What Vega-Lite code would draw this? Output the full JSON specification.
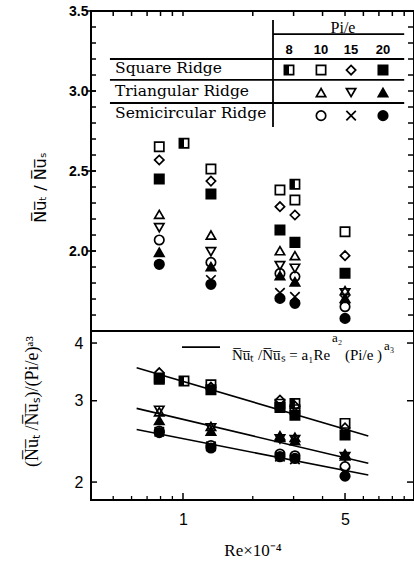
{
  "$schema": "https://vega.github.io/schema/vega-lite/v6.json",
  "width": 323,
  "height": 489,
  "autosize": {"type": "none"},
  "padding": {"left": 91, "top": 11, "right": 0, "bottom": 65},
  "background": "white",
  "config": {
    "view": {"stroke": "black", "strokeWidth": 2},
    "axis": {"grid": false, "domain": false, "ticks": false, "labelColor": "black", "titleColor": "black", "labelFlush": false, "labelOverlap": false},
    "tick": {"color": "black", "opacity": 1}
  },
  "datasets": {
    "top": [
      {"re": 0.79, "v": 2.652, "sym": "sq10"}, {"re": 0.79, "v": 2.569, "sym": "sq15"}, {"re": 0.79, "v": 2.45, "sym": "sq20"},
      {"re": 0.79, "v": 2.229, "sym": "tr10"}, {"re": 0.79, "v": 2.146, "sym": "tr15"}, {"re": 0.79, "v": 2.069, "sym": "sc10"},
      {"re": 0.79, "v": 1.992, "sym": "tr20"}, {"re": 0.79, "v": 1.917, "sym": "sc20"},
      {"re": 1.01, "v": 2.673, "sym": "sq8"},
      {"re": 1.32, "v": 2.512, "sym": "sq10"}, {"re": 1.32, "v": 2.437, "sym": "sq15"}, {"re": 1.32, "v": 2.356, "sym": "sq20"},
      {"re": 1.32, "v": 2.1, "sym": "tr10"}, {"re": 1.32, "v": 1.996, "sym": "tr15"}, {"re": 1.32, "v": 1.929, "sym": "sc10"},
      {"re": 1.32, "v": 1.902, "sym": "tr20"}, {"re": 1.32, "v": 1.819, "sym": "sc15"}, {"re": 1.32, "v": 1.792, "sym": "sc20"},
      {"re": 2.62, "v": 2.381, "sym": "sq10"}, {"re": 2.62, "v": 2.277, "sym": "sq15"}, {"re": 2.62, "v": 2.131, "sym": "sq20"},
      {"re": 2.62, "v": 2.002, "sym": "tr10"}, {"re": 2.62, "v": 1.908, "sym": "tr15"}, {"re": 2.62, "v": 1.86, "sym": "sc10"},
      {"re": 2.62, "v": 1.846, "sym": "tr20"}, {"re": 2.62, "v": 1.739, "sym": "sc15"}, {"re": 2.62, "v": 1.704, "sym": "sc20"},
      {"re": 3.04, "v": 2.417, "sym": "sq8"}, {"re": 3.04, "v": 2.319, "sym": "sq10"}, {"re": 3.04, "v": 2.225, "sym": "sq15"},
      {"re": 3.04, "v": 2.054, "sym": "sq20"}, {"re": 3.04, "v": 1.971, "sym": "tr10"}, {"re": 3.04, "v": 1.892, "sym": "tr15"},
      {"re": 3.04, "v": 1.84, "sym": "sc10"}, {"re": 3.04, "v": 1.808, "sym": "tr20"}, {"re": 3.04, "v": 1.714, "sym": "sc15"},
      {"re": 3.04, "v": 1.673, "sym": "sc20"},
      {"re": 5.0, "v": 2.121, "sym": "sq10"}, {"re": 5.0, "v": 1.971, "sym": "sq15"}, {"re": 5.0, "v": 1.861, "sym": "sq20"},
      {"re": 5.0, "v": 1.752, "sym": "tr10"}, {"re": 5.0, "v": 1.739, "sym": "tr15"}, {"re": 5.0, "v": 1.704, "sym": "tr20"},
      {"re": 5.0, "v": 1.694, "sym": "sc15"}, {"re": 5.0, "v": 1.652, "sym": "sc10"}, {"re": 5.0, "v": 1.579, "sym": "sc20"},
      {"re": 2.866, "v": 3.131, "sym": "sq8"}, {"re": 3.94, "v": 3.131, "sym": "sq10"}, {"re": 5.31, "v": 3.131, "sym": "sq15"}, {"re": 7.29, "v": 3.131, "sym": "sq20"},
      {"re": 3.94, "v": 2.99, "sym": "tr10"}, {"re": 5.31, "v": 2.99, "sym": "tr15"}, {"re": 7.29, "v": 2.99, "sym": "tr20"},
      {"re": 3.94, "v": 2.846, "sym": "sc10"}, {"re": 5.31, "v": 2.846, "sym": "sc15"}, {"re": 7.29, "v": 2.846, "sym": "sc20"}
    ],
    "tlines": [
      {"re": 2.445, "re2": 2.445, "v": 3.444, "v2": 2.775},
      {"re": 2.445, "re2": 9.0, "v": 3.356, "v2": 3.356},
      {"re": 0.484, "re2": 9.0, "v": 3.2, "v2": 3.2},
      {"re": 0.484, "re2": 9.0, "v": 3.069, "v2": 3.069},
      {"re": 0.484, "re2": 9.0, "v": 2.925, "v2": 2.925}
    ],
    "divider": [{"re": 0.401, "re2": 9.92, "v": 1.5}],
    "rowlabels": [
      {"re": 0.509, "v": 3.144, "label": "Square Ridge"},
      {"re": 0.509, "v": 3.0, "label": "Triangular Ridge"},
      {"re": 0.509, "v": 2.8625, "label": "Semicircular Ridge"}
    ],
    "header": [{"re": 4.9, "v": 3.394, "label": "Pi/e"}],
    "pis": [
      {"re": 2.866, "v": 3.256, "label": "8"}, {"re": 3.94, "v": 3.256, "label": "10"},
      {"re": 5.31, "v": 3.256, "label": "15"}, {"re": 7.29, "v": 3.256, "label": "20"}
    ],
    "xticks_top": [{"re": 0.5}, {"re": 0.6}, {"re": 0.7}, {"re": 0.8}, {"re": 0.9}, {"re": 1}, {"re": 2}, {"re": 3}, {"re": 4}, {"re": 5}, {"re": 6}, {"re": 7}, {"re": 8}, {"re": 9}],
    "yticks_top": [{"v": 1.6}, {"v": 1.7}, {"v": 1.8}, {"v": 1.9}, {"v": 2.0}, {"v": 2.1}, {"v": 2.2}, {"v": 2.3}, {"v": 2.4}, {"v": 2.5}, {"v": 2.6}, {"v": 2.7}, {"v": 2.8}, {"v": 2.9}, {"v": 3.0}, {"v": 3.1}, {"v": 3.2}, {"v": 3.3}, {"v": 3.4}],
    "yticks_top_major": [{"v": 2.0}, {"v": 2.5}, {"v": 3.0}, {"v": 3.5}],
    "xticks_bot_minor": [{"re": 0.5}, {"re": 0.6}, {"re": 0.7}, {"re": 0.8}, {"re": 0.9}, {"re": 2}, {"re": 3}, {"re": 4}, {"re": 6}, {"re": 7}, {"re": 8}, {"re": 9}],
    "xticks_bot_major": [{"re": 1}, {"re": 5}],
    "yticks_bot": [{"v": 2}, {"v": 3}, {"v": 4}],
    "bot": [
      {"re": 0.79, "v": 3.36, "sym": "sq10"}, {"re": 0.79, "v": 3.45, "sym": "sq15"}, {"re": 0.79, "v": 3.34, "sym": "sq20"},
      {"re": 1.01, "v": 3.31, "sym": "sq8"},
      {"re": 1.32, "v": 3.25, "sym": "sq10"}, {"re": 1.32, "v": 3.21, "sym": "sq15"}, {"re": 1.32, "v": 3.17, "sym": "sq20"},
      {"re": 2.62, "v": 2.95, "sym": "sq10"}, {"re": 2.62, "v": 3.01, "sym": "sq15"}, {"re": 2.62, "v": 2.9, "sym": "sq20"},
      {"re": 3.04, "v": 2.96, "sym": "sq8"}, {"re": 3.04, "v": 2.87, "sym": "sq10"}, {"re": 3.04, "v": 2.92, "sym": "sq15"}, {"re": 3.04, "v": 2.79, "sym": "sq20"},
      {"re": 5.0, "v": 2.68, "sym": "sq10"}, {"re": 5.0, "v": 2.62, "sym": "sq15"}, {"re": 5.0, "v": 2.53, "sym": "sq20"},
      {"re": 0.79, "v": 2.84, "sym": "tr10"}, {"re": 0.79, "v": 2.86, "sym": "tr15"}, {"re": 0.79, "v": 2.72, "sym": "tr20"},
      {"re": 1.32, "v": 2.64, "sym": "tr10"}, {"re": 1.32, "v": 2.62, "sym": "tr15"}, {"re": 1.32, "v": 2.58, "sym": "tr20"},
      {"re": 2.62, "v": 2.52, "sym": "tr10"}, {"re": 2.62, "v": 2.48, "sym": "tr15"}, {"re": 2.62, "v": 2.5, "sym": "tr20"},
      {"re": 3.04, "v": 2.5, "sym": "tr10"}, {"re": 3.04, "v": 2.47, "sym": "tr15"}, {"re": 3.04, "v": 2.46, "sym": "tr20"},
      {"re": 5.0, "v": 2.3, "sym": "tr10"}, {"re": 5.0, "v": 2.27, "sym": "tr15"}, {"re": 5.0, "v": 2.28, "sym": "tr20"},
      {"re": 0.79, "v": 2.58, "sym": "sc10"}, {"re": 0.79, "v": 2.57, "sym": "sc15"}, {"re": 0.79, "v": 2.56, "sym": "sc20"},
      {"re": 1.32, "v": 2.4, "sym": "sc10"}, {"re": 1.32, "v": 2.39, "sym": "sc15"}, {"re": 1.32, "v": 2.37, "sym": "sc20"},
      {"re": 2.62, "v": 2.3, "sym": "sc10"}, {"re": 2.62, "v": 2.27, "sym": "sc15"}, {"re": 2.62, "v": 2.27, "sym": "sc20"},
      {"re": 3.04, "v": 2.28, "sym": "sc10"}, {"re": 3.04, "v": 2.24, "sym": "sc15"}, {"re": 3.04, "v": 2.25, "sym": "sc20"},
      {"re": 5.0, "v": 2.16, "sym": "sc10"}, {"re": 5.0, "v": 2.1, "sym": "sc15"}, {"re": 5.0, "v": 2.06, "sym": "sc20"}
    ],
    "fits": [
      {"fit": "square", "re": 0.631, "v": 3.537}, {"fit": "square", "re": 6.3, "v": 2.516},
      {"fit": "triangular", "re": 0.631, "v": 2.888}, {"fit": "triangular", "re": 6.3, "v": 2.196},
      {"fit": "semicircular", "re": 0.631, "v": 2.6}, {"fit": "semicircular", "re": 6.3, "v": 2.071}
    ],
    "bkey": [{"re": 0.99, "re2": 1.444, "v": 3.92}],
    "fmain": [
      {"re": 1.627, "v": 3.77, "label": "N̅u̅ₜ /N̅u̅ₛ = a₁Re"},
      {"re": 5.0, "v": 3.77, "label": "(Pi/e )"}
    ],
    "fsup": [
      {"re": 4.393, "v": 4.1, "label": "a₂"},
      {"re": 7.36, "v": 3.94, "label": "a₃"}
    ]
  },
  "layer": [
    {
      "layer": [
        {
          "data": {"name": "top"},
          "mark": {"type": "point", "stroke": "black", "strokeWidth": 1.7, "opacity": 1, "fillOpacity": 1},
          "encoding": {
            "x": {"field": "re", "type": "quantitative", "scale": {"type": "log", "domain": [0.401, 9.92], "nice": false}, "axis": null},
            "y": {"field": "v", "type": "quantitative", "scale": {"domain": [0.444, 3.5], "nice": false, "zero": false},
              "axis": {"orient": "left", "values": [2, 2.5, 3, 3.5], "format": ".1f", "ticks": false, "domain": false, "labelPadding": 3, "labelFont": "Liberation Sans", "labelFontSize": 14, "labelFontWeight": "bold",
                "title": "N̅u̅ₜ / N̅u̅ₛ", "titleFont": "DejaVu Sans", "titleFontSize": 16, "titleFontWeight": "normal", "titleX": -51, "titleY": 176, "titleAngle": -90, "titleBaseline": "middle", "titleAlign": "center"}},
            "shape": {"field": "sym", "type": "nominal", "legend": null,
              "scale": {"domain": ["sq8", "sq10", "sq15", "sq20", "tr10", "tr15", "tr20", "sc10", "sc15", "sc20"], "range": ["square", "square", "diamond", "square", "triangle-up", "triangle-down", "triangle-up", "circle", "M-1,-1L1,1M-1,1L1,-1", "circle"]}},
            "fill": {"field": "sym", "type": "nominal", "legend": null,
              "scale": {"domain": ["sq8", "sq10", "sq15", "sq20", "tr10", "tr15", "tr20", "sc10", "sc15", "sc20"], "range": ["transparent", "transparent", "transparent", "black", "transparent", "transparent", "black", "transparent", "transparent", "black"]}},
            "size": {"field": "sym", "type": "nominal", "legend": null,
              "scale": {"domain": ["sq8", "sq10", "sq15", "sq20", "tr10", "tr15", "tr20", "sc10", "sc15", "sc20"], "range": [85, 90, 150, 85, 115, 115, 115, 90, 50, 90]}}
          }
        },
        {
          "data": {"name": "top"},
          "transform": [{"filter": "datum.sym === 'sq8'"}],
          "mark": {"type": "point", "shape": "M-1,-1H0V1H-1Z", "size": 85, "filled": true, "fill": "black", "strokeWidth": 0, "opacity": 1},
          "encoding": {
            "x": {"field": "re", "type": "quantitative", "scale": {"type": "log", "domain": [0.401, 9.92], "nice": false}, "axis": null},
            "y": {"field": "v", "type": "quantitative", "scale": {"domain": [0.444, 3.5], "nice": false, "zero": false}, "axis": null}
          }
        },
        {
          "data": {"name": "tlines"},
          "mark": {"type": "rule", "color": "black", "strokeWidth": 1.8},
          "encoding": {
            "x": {"field": "re", "type": "quantitative", "scale": {"type": "log", "domain": [0.401, 9.92], "nice": false}, "axis": null},
            "x2": {"field": "re2"},
            "y": {"field": "v", "type": "quantitative", "scale": {"domain": [0.444, 3.5], "nice": false, "zero": false}, "axis": null},
            "y2": {"field": "v2"}
          }
        },
        {
          "data": {"name": "divider"},
          "mark": {"type": "rule", "color": "black", "strokeWidth": 2},
          "encoding": {
            "x": {"field": "re", "type": "quantitative", "scale": {"type": "log", "domain": [0.401, 9.92], "nice": false}, "axis": null},
            "x2": {"field": "re2"},
            "y": {"field": "v", "type": "quantitative", "scale": {"domain": [0.444, 3.5], "nice": false, "zero": false}, "axis": null}
          }
        },
        {
          "data": {"name": "xticks_top"},
          "mark": {"type": "tick", "orient": "vertical", "size": 5, "thickness": 1.5, "yOffset": 2.5},
          "encoding": {
            "x": {"field": "re", "type": "quantitative", "scale": {"type": "log", "domain": [0.401, 9.92], "nice": false}, "axis": null},
            "y": {"datum": 3.5, "type": "quantitative", "scale": {"domain": [0.444, 3.5], "nice": false, "zero": false}, "axis": null}
          }
        },
        {
          "data": {"name": "yticks_top"},
          "mark": {"type": "tick", "orient": "horizontal", "size": 5, "thickness": 1.5, "xOffset": 2.5},
          "encoding": {
            "x": {"datum": 0.401, "type": "quantitative", "scale": {"type": "log", "domain": [0.401, 9.92], "nice": false}, "axis": null},
            "y": {"field": "v", "type": "quantitative", "scale": {"domain": [0.444, 3.5], "nice": false, "zero": false}, "axis": null}
          }
        },
        {
          "data": {"name": "yticks_top_major"},
          "mark": {"type": "tick", "orient": "horizontal", "size": 9, "thickness": 1.5, "xOffset": 0.5},
          "encoding": {
            "x": {"datum": 0.401, "type": "quantitative", "scale": {"type": "log", "domain": [0.401, 9.92], "nice": false}, "axis": null},
            "y": {"field": "v", "type": "quantitative", "scale": {"domain": [0.444, 3.5], "nice": false, "zero": false}, "axis": null}
          }
        },
        {
          "data": {"name": "yticks_top"},
          "mark": {"type": "tick", "orient": "horizontal", "size": 5, "thickness": 1.5, "xOffset": -3.5},
          "encoding": {
            "x": {"datum": 9.92, "type": "quantitative", "scale": {"type": "log", "domain": [0.401, 9.92], "nice": false}, "axis": null},
            "y": {"field": "v", "type": "quantitative", "scale": {"domain": [0.444, 3.5], "nice": false, "zero": false}, "axis": null}
          }
        },
        {
          "data": {"name": "rowlabels"},
          "mark": {"type": "text", "align": "left", "baseline": "middle", "font": "DejaVu Serif", "fontSize": 15.5, "color": "black"},
          "encoding": {
            "x": {"field": "re", "type": "quantitative", "scale": {"type": "log", "domain": [0.401, 9.92], "nice": false}, "axis": null},
            "y": {"field": "v", "type": "quantitative", "scale": {"domain": [0.444, 3.5], "nice": false, "zero": false}, "axis": null},
            "text": {"field": "label"}
          }
        },
        {
          "data": {"name": "header"},
          "mark": {"type": "text", "align": "center", "baseline": "middle", "font": "Liberation Serif", "fontSize": 16, "color": "black"},
          "encoding": {
            "x": {"field": "re", "type": "quantitative", "scale": {"type": "log", "domain": [0.401, 9.92], "nice": false}, "axis": null},
            "y": {"field": "v", "type": "quantitative", "scale": {"domain": [0.444, 3.5], "nice": false, "zero": false}, "axis": null},
            "text": {"field": "label"}
          }
        },
        {
          "data": {"name": "pis"},
          "mark": {"type": "text", "align": "center", "baseline": "middle", "font": "Liberation Sans", "fontWeight": "bold", "fontSize": 13, "color": "black"},
          "encoding": {
            "x": {"field": "re", "type": "quantitative", "scale": {"type": "log", "domain": [0.401, 9.92], "nice": false}, "axis": null},
            "y": {"field": "v", "type": "quantitative", "scale": {"domain": [0.444, 3.5], "nice": false, "zero": false}, "axis": null},
            "text": {"field": "label"}
          }
        }
      ],
      "resolve": {"axis": {"x": "independent", "y": "independent"}}
    },
    {
      "layer": [
        {
          "data": {"name": "fits"},
          "mark": {"type": "line", "color": "black", "strokeWidth": 1.6},
          "encoding": {
            "x": {"field": "re", "type": "quantitative", "scale": {"type": "log", "domain": [0.401, 9.92], "nice": false}, "axis": null},
            "y": {"field": "v", "type": "quantitative", "scale": {"type": "log", "domain": [1.829, 20.94], "nice": false}, "axis": null},
            "detail": {"field": "fit"}
          }
        },
        {
          "data": {"name": "bot"},
          "mark": {"type": "point", "stroke": "black", "strokeWidth": 1.7, "opacity": 1, "fillOpacity": 1},
          "encoding": {
            "x": {"field": "re", "type": "quantitative", "scale": {"type": "log", "domain": [0.401, 9.92], "nice": false},
              "axis": {"orient": "bottom", "values": [1, 5], "ticks": false, "domain": false, "labelPadding": 11, "labelFont": "Liberation Sans", "labelFontSize": 16,
                "title": "Re×10⁻⁴", "titleFont": "Liberation Serif", "titleFontSize": 17, "titleFontWeight": "normal", "titleY": 50, "titleBaseline": "middle"}},
            "y": {"field": "v", "type": "quantitative", "scale": {"type": "log", "domain": [1.829, 20.94], "nice": false},
              "axis": {"orient": "left", "values": [2, 3, 4], "format": "d", "ticks": false, "domain": false, "labelPadding": 8, "labelFont": "Liberation Sans", "labelFontSize": 16,
                "title": "(N̅u̅ₜ /N̅u̅ₛ)/(Pi/e)ᵃ³", "titleFont": "Liberation Serif", "titleFontSize": 18, "titleFontWeight": "normal", "titleX": -59, "titleY": 390, "titleAngle": -90, "titleBaseline": "middle", "titleAlign": "center"}},
            "shape": {"field": "sym", "type": "nominal", "legend": null,
              "scale": {"domain": ["sq8", "sq10", "sq15", "sq20", "tr10", "tr15", "tr20", "sc10", "sc15", "sc20"], "range": ["square", "square", "diamond", "square", "triangle-up", "triangle-down", "triangle-up", "circle", "M-1,-1L1,1M-1,1L1,-1", "circle"]}},
            "fill": {"field": "sym", "type": "nominal", "legend": null,
              "scale": {"domain": ["sq8", "sq10", "sq15", "sq20", "tr10", "tr15", "tr20", "sc10", "sc15", "sc20"], "range": ["transparent", "transparent", "transparent", "black", "transparent", "transparent", "black", "transparent", "transparent", "black"]}},
            "size": {"field": "sym", "type": "nominal", "legend": null,
              "scale": {"domain": ["sq8", "sq10", "sq15", "sq20", "tr10", "tr15", "tr20", "sc10", "sc15", "sc20"], "range": [85, 90, 150, 85, 115, 115, 115, 90, 50, 90]}}
          }
        },
        {
          "data": {"name": "bot"},
          "transform": [{"filter": "datum.sym === 'sq8'"}],
          "mark": {"type": "point", "shape": "M-1,-1H0V1H-1Z", "size": 85, "filled": true, "fill": "black", "strokeWidth": 0, "opacity": 1},
          "encoding": {
            "x": {"field": "re", "type": "quantitative", "scale": {"type": "log", "domain": [0.401, 9.92], "nice": false}, "axis": null},
            "y": {"field": "v", "type": "quantitative", "scale": {"type": "log", "domain": [1.829, 20.94], "nice": false}, "axis": null}
          }
        },
        {
          "data": {"name": "xticks_bot_minor"},
          "mark": {"type": "tick", "orient": "vertical", "size": 4, "thickness": 1.3, "yOffset": -2},
          "encoding": {
            "x": {"field": "re", "type": "quantitative", "scale": {"type": "log", "domain": [0.401, 9.92], "nice": false}, "axis": null},
            "y": {"datum": 1.829, "type": "quantitative", "scale": {"type": "log", "domain": [1.829, 20.94], "nice": false}, "axis": null}
          }
        },
        {
          "data": {"name": "xticks_bot_major"},
          "mark": {"type": "tick", "orient": "vertical", "size": 7, "thickness": 1.5, "yOffset": -3.5},
          "encoding": {
            "x": {"field": "re", "type": "quantitative", "scale": {"type": "log", "domain": [0.401, 9.92], "nice": false}, "axis": null},
            "y": {"datum": 1.829, "type": "quantitative", "scale": {"type": "log", "domain": [1.829, 20.94], "nice": false}, "axis": null}
          }
        },
        {
          "data": {"name": "yticks_bot"},
          "mark": {"type": "tick", "orient": "horizontal", "size": 6, "thickness": 1.5, "xOffset": 3},
          "encoding": {
            "x": {"datum": 0.401, "type": "quantitative", "scale": {"type": "log", "domain": [0.401, 9.92], "nice": false}, "axis": null},
            "y": {"field": "v", "type": "quantitative", "scale": {"type": "log", "domain": [1.829, 20.94], "nice": false}, "axis": null}
          }
        },
        {
          "data": {"name": "yticks_bot"},
          "mark": {"type": "tick", "orient": "horizontal", "size": 6, "thickness": 1.5, "xOffset": -4},
          "encoding": {
            "x": {"datum": 9.92, "type": "quantitative", "scale": {"type": "log", "domain": [0.401, 9.92], "nice": false}, "axis": null},
            "y": {"field": "v", "type": "quantitative", "scale": {"type": "log", "domain": [1.829, 20.94], "nice": false}, "axis": null}
          }
        },
        {
          "data": {"name": "bkey"},
          "mark": {"type": "rule", "color": "black", "strokeWidth": 1.6},
          "encoding": {
            "x": {"field": "re", "type": "quantitative", "scale": {"type": "log", "domain": [0.401, 9.92], "nice": false}, "axis": null},
            "x2": {"field": "re2"},
            "y": {"field": "v", "type": "quantitative", "scale": {"type": "log", "domain": [1.829, 20.94], "nice": false}, "axis": null}
          }
        },
        {
          "data": {"name": "fmain"},
          "mark": {"type": "text", "align": "left", "baseline": "middle", "font": "Liberation Serif", "fontSize": 15, "color": "black"},
          "encoding": {
            "x": {"field": "re", "type": "quantitative", "scale": {"type": "log", "domain": [0.401, 9.92], "nice": false}, "axis": null},
            "y": {"field": "v", "type": "quantitative", "scale": {"type": "log", "domain": [1.829, 20.94], "nice": false}, "axis": null},
            "text": {"field": "label"}
          }
        },
        {
          "data": {"name": "fsup"},
          "mark": {"type": "text", "align": "left", "baseline": "middle", "font": "Liberation Serif", "fontSize": 13, "color": "black"},
          "encoding": {
            "x": {"field": "re", "type": "quantitative", "scale": {"type": "log", "domain": [0.401, 9.92], "nice": false}, "axis": null},
            "y": {"field": "v", "type": "quantitative", "scale": {"type": "log", "domain": [1.829, 20.94], "nice": false}, "axis": null},
            "text": {"field": "label"}
          }
        }
      ],
      "resolve": {"axis": {"x": "independent", "y": "independent"}}
    }
  ],
  "resolve": {"scale": {"y": "independent"}, "axis": {"x": "independent", "y": "independent"}}
}
